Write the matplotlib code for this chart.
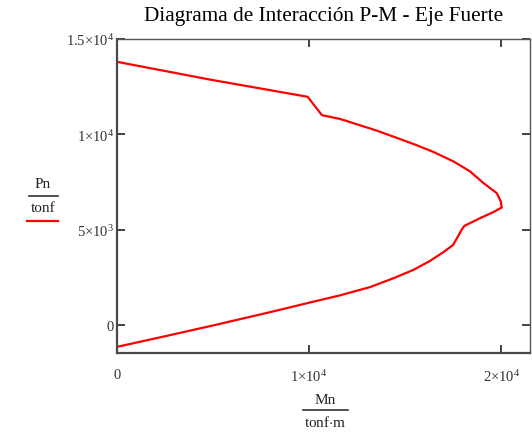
import matplotlib
matplotlib.use("Agg")
import matplotlib.pyplot as plt
from matplotlib.lines import Line2D

plt.rcParams['font.family'] = ['Liberation Serif', 'DejaVu Serif']
plt.rcParams['mathtext.fontset'] = 'custom'
plt.rcParams['mathtext.rm'] = 'Liberation Serif'
plt.rcParams['mathtext.it'] = 'Liberation Serif:italic'

# curva de interaccion, momento (tonf*m) y carga axial (tonf)
Mn = [0, 2590, 5190, 7790, 8480, 10220, 11600, 13160, 14370, 15410, 16280,
      16970, 17490, 17930, 18070, 18890, 19580, 20020, 19970, 19760, 19070,
      18370, 17500, 16470, 15430, 13520, 11610, 10660, 9920, 4840, 0]
Pn = [-1133, -560, 30, 640, 805, 1230, 1560, 1990, 2450, 2886, 3358,
      3814, 4197, 4984, 5194, 5598, 5913, 6160, 6474, 6910, 7434,
      8048, 8573, 9061, 9481, 10180, 10790, 10990, 11950, 12850, 13780]

xticks = [0, 10000, 20000]
xtick_labels = ['0', r'1$\times$10$^{4}$', r'2$\times$10$^{4}$']
yticks = [0, 5000, 10000, 15000]
ytick_labels = ['0', r'5$\times$10$^{3}$', r'1$\times$10$^{4}$', r'1.5$\times$10$^{4}$']

W, H = 532, 435
fig = plt.figure(figsize=(W / 100, H / 100), dpi=100)
ax = fig.add_axes([117 / W, (H - 353.5) / H, (530 - 117) / W, (353.5 - 39.5) / H])

ax.plot(Mn, Pn, color='#ff0000', linewidth=1.6)

ax.set_xlim(0, 21490)
ax.set_ylim(-1430, 15000)
ax.set_xticks(xticks)
ax.set_xticklabels(xtick_labels)
ax.set_yticks(yticks)
ax.set_yticklabels(ytick_labels)
ax.tick_params(direction='in', length=6, width=1.2, color='#222222',
               top=True, right=True, labelsize=10.5, labelcolor='#333333')
ax.tick_params(axis='x', pad=11)
ax.tick_params(axis='y', pad=2)

for side in ['left', 'bottom']:
    ax.spines[side].set_linewidth(1.6)
    ax.spines[side].set_color('#4a4a4a')
for side in ['top', 'right']:
    ax.spines[side].set_linewidth(1.0)
    ax.spines[side].set_color('#555555')

fig.text(323.5 / W, 1 - 17 / H, 'Diagrama de Interacción P-M - Eje Fuerte',
         ha='center', va='center', fontsize=15.3, color='black')


def px(x, y):
    return x / W, 1 - y / H


# rotulo del eje vertical
fig.text(*px(43, 185), 'Pn', ha='center', va='center', fontsize=11, color='#222222')
fig.add_artist(Line2D(*zip(px(29, 197), px(58, 197)), transform=fig.transFigure,
                      color='#333333', linewidth=1.2))
fig.text(*px(43, 209), 'tonf', ha='center', va='center', fontsize=11, color='#222222')
fig.add_artist(Line2D(*zip(px(27, 222), px(58, 222)), transform=fig.transFigure,
                      color='#ff0000', linewidth=1.6))

# rotulo del eje horizontal
fig.text(*px(325.5, 401), 'Mn', ha='center', va='center', fontsize=11, color='#222222')
fig.add_artist(Line2D(*zip(px(303, 411), px(348, 411)), transform=fig.transFigure,
                      color='#333333', linewidth=1.2))
fig.text(*px(325.5, 423), 'tonf$\\cdot$m', ha='center', va='center', fontsize=11,
         color='#222222')

fig.savefig('out.png', dpi=100)
